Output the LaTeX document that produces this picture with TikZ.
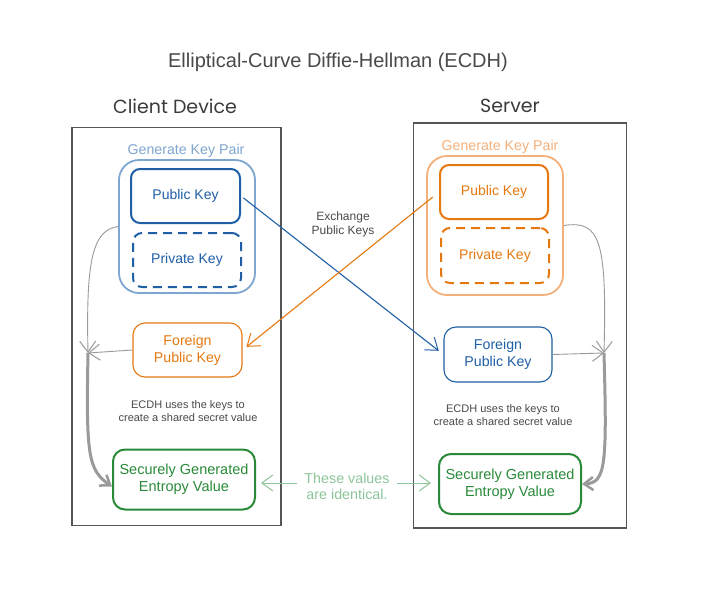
\documentclass[tikz,border=0pt]{standalone}
\usepackage{fontspec}
\setmainfont{Liberation Sans}
\newfontfamily\handfont{Poppins}
\usetikzlibrary{arrows.meta}
\definecolor{dblue}{HTML}{1F5FA6}
\definecolor{lblue}{HTML}{7FA6D0}
\definecolor{dorange}{HTML}{E5780F}
\definecolor{lorange}{HTML}{F4B07A}
\definecolor{dgreen}{HTML}{2A8A3A}
\definecolor{lgreen}{HTML}{8CC59A}
\definecolor{txtgray}{HTML}{4A4A4A}
\definecolor{boxgray}{HTML}{555555}
\definecolor{lngray}{HTML}{9A9A9A}
\tikzset{
  keybox/.style={draw, rounded corners=9pt, line width=2pt, align=center, font=\fontsize{14}{16}\selectfont, inner sep=0pt},
  thinkey/.style={draw, rounded corners=12pt, line width=1.1pt, align=center, font=\fontsize{14.2}{17}\selectfont, inner sep=0pt},
  grpbox/.style={draw, rounded corners=20pt, line width=1.8pt, inner sep=0pt},
  grplabel/.style={font=\fontsize{14.2}{16}\selectfont},
  entbox/.style={draw=dgreen, text=dgreen, rounded corners=12pt, line width=2pt, align=center, font=\fontsize{14.5}{17}\selectfont, inner sep=0pt, minimum width=142pt, minimum height=60pt},
  smalltxt/.style={text=txtgray, align=center, font=\fontsize{11}{13}\selectfont},
  device/.style={draw=boxgray, line width=1.3pt},
  devlabel/.style={text=txtgray!80!black, font=\handfont\fontsize{19}{22}\selectfont},
  barb/.style={-{Straight Barb[length=11pt,width=16pt,line width=1pt]}},
}
\begin{document}
\begin{tikzpicture}[x=1pt,y=-1pt]
\useasboundingbox[fill=white] (0,0) rectangle (706,597);

% title
\node[text=txtgray, font=\fontsize{20}{22}\selectfont] (title) at (338,62) {Elliptical-Curve Diffie-Hellman (ECDH)};

% devices
\node[devlabel] (cdl) at (175,106) {Client Device};
\node[devlabel] (sdl) at (510,106) {Server};
\node[device, minimum width=209pt, minimum height=398pt] (cdev) at (176.5,326.5) {};
\node[device, minimum width=213pt, minimum height=405pt] (sdev) at (520,325.5) {};

% client key pair
\node[grplabel, text=lblue] (cgl) at (186,151) {Generate Key Pair};
\node[grpbox, draw=lblue, minimum width=136pt, minimum height=133pt] (cg) at (187,226.5) {};
\node[keybox, draw=dblue, text=dblue, minimum width=109pt, minimum height=54pt] (cpub) at (185.5,196) {Public Key};
\node[keybox, draw=dblue, text=dblue, dash pattern=on 9pt off 6pt, minimum width=108pt, minimum height=54pt] (cpriv) at (187,260) {Private Key};

% server key pair
\node[grplabel, text=lorange] (sgl) at (500,147) {Generate Key Pair};
\node[grpbox, draw=lorange, minimum width=136pt, minimum height=139pt] (sg) at (495,225.5) {};
\node[keybox, draw=dorange, text=dorange, minimum width=108pt, minimum height=54pt] (spub) at (494,192) {Public Key};
\node[keybox, draw=dorange, text=dorange, dash pattern=on 9pt off 6pt, minimum width=108pt, minimum height=55pt] (spriv) at (495,255.5) {Private Key};

% foreign keys
\node[thinkey, draw=dorange, text=dorange, minimum width=109pt, minimum height=54pt] (cfor) at (187.5,350) {Foreign\\Public Key};
\node[thinkey, draw=dblue, text=dblue, minimum width=108pt, minimum height=55pt] (sfor) at (498,354.5) {Foreign\\Public Key};

% ECDH texts
\node[smalltxt] (cecdh) at (188,411.5) {ECDH uses the keys to\\create a shared secret value};
\node[smalltxt] (secdh) at (503,415.5) {ECDH uses the keys to\\create a shared secret value};

% entropy boxes
\node[entbox] (cent) at (184,479.5) {Securely Generated\\Entropy Value};
\node[entbox] (sent) at (510,484) {Securely Generated\\Entropy Value};

% exchange
\node[smalltxt, font=\fontsize{12}{13.5}\selectfont] (exch) at (343,224.5) {Exchange\\Public Keys};
\draw[dblue, line width=1.1pt, barb, shorten <=3pt, shorten >=6pt] (cpub.east) -- (sfor.west);
\draw[dorange, line width=1.1pt, barb, shorten <=8pt, shorten >=5pt] (spub.west) -- (cfor.east);

% identical
\node[text=lgreen, align=center, font=\fontsize{14.3}{16}\selectfont] (same) at (347,486) {These values\\are identical.};
\coordinate (samel) at (297,483);
\coordinate (samer) at (397,483);
\draw[lgreen, line width=1pt, barb, shorten >=5pt] (samel) -- (samel -| cent.east);
\draw[lgreen, line width=1pt, barb, shorten >=7pt] (samer) -- (samer -| sent.west);

% client flow
\coordinate (cj) at (88,353);
\draw[lngray, line width=0.9pt, barb] (cg.west) .. controls (92,230) and (86,262) .. (cj);
\draw[lngray, line width=0.9pt, barb] (cfor.west) -- (cj);
\draw[lngray, line width=3pt, -{Straight Barb[length=9pt,width=13pt,line width=2.5pt]}] (cj) .. controls (86,455) and (88,470) .. ([yshift=-7pt]cent.west);

% server flow
\coordinate (sj) at (604,353);
\draw[lngray, line width=0.9pt, barb] (sg.east) .. controls (600,220) and (607,240) .. (sj);
\draw[lngray, line width=0.9pt, barb] (sfor.east) -- (sj);
\draw[lngray, line width=3pt, -{Straight Barb[length=9pt,width=13pt,line width=2.5pt]}] (sj) .. controls (607,465) and (606,483) .. (sent.east);
\end{tikzpicture}
\end{document}
